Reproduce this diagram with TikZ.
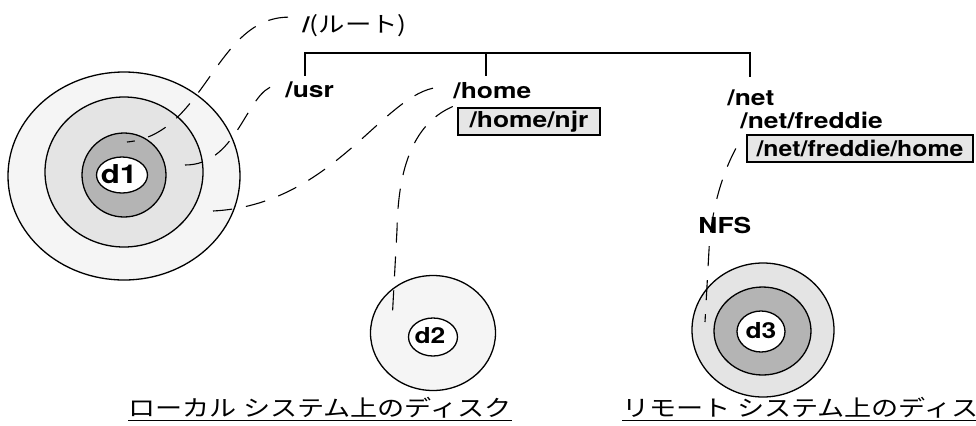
\documentclass[tikz,border=0pt]{standalone}
\usepackage{fontspec}
\setmainfont{TeX Gyre Heros}
\newfontfamily\jpfont{Noto Sans CJK JP}
\usetikzlibrary{positioning}
\definecolor{RingOuter}{HTML}{F5F5F5}
\definecolor{RingMid}{HTML}{E4E4E4}
\definecolor{RingCore}{HTML}{B4B4B4}
\definecolor{BoxFill}{HTML}{E6E6E6}
\newcommand\pathfont{\fontsize{11pt}{13pt}\selectfont\bfseries}
\newcommand\diskfont{\fontsize{11pt}{13pt}\selectfont\bfseries}
\tikzset{
  tree/.style={line width=1pt, line cap=rect},
  link/.style={line width=0.55pt, dash pattern=on 10pt off 7pt},
  ring/.style={draw=black, line width=0.65pt},
  pathlbl/.style={font=\pathfont, xscale=1.2, inner sep=0pt, anchor=base west},
  mountbox/.style={font=\pathfont, xscale=1.2, inner sep=0pt, draw=black, line width=1pt,
    fill=BoxFill, minimum height=13.5pt},
  disklbl/.style={font=\diskfont, xscale=1.2, inner sep=0pt, anchor=base},
  caption/.style={font=\jpfont\fontsize{11.3pt}{13pt}\selectfont, xscale=1.2, inner sep=0pt, anchor=base west},
}
\begin{document}
\begin{tikzpicture}[x=0.5pt, y=-0.5pt]
  \useasboundingbox (0,0) rectangle (976,425);

  % local disk d1
  \filldraw[ring, fill=RingOuter] (124,176) ellipse [x radius=58pt, y radius=52pt];
  \filldraw[ring, fill=RingMid] (124,172) ellipse [x radius=39.5pt, y radius=37.5pt];
  \filldraw[ring, fill=RingCore] (124,175) ellipse [x radius=21pt, y radius=21pt];
  \filldraw[ring, fill=white] (122,175) ellipse [x radius=12.75pt, y radius=9pt];
  \node[disklbl, font=\fontsize{13pt}{15pt}\selectfont\bfseries] (d1) at (119,183) {d1};

  % local disk d2
  \filldraw[ring, fill=RingOuter] (433,333) ellipse [x radius=31.25pt, y radius=28.75pt];
  \filldraw[ring, fill=white] (433,337) ellipse [x radius=12.25pt, y radius=9.5pt];
  \node[disklbl] (d2) at (430,343) {d2};

  % remote disk d3
  \filldraw[ring, fill=RingMid] (763,330) ellipse [x radius=35.5pt, y radius=33.5pt];
  \filldraw[ring, fill=RingCore] (762.5,331) ellipse [x radius=24.25pt, y radius=22pt];
  \filldraw[ring, fill=white] (761,331.5) ellipse [x radius=12pt, y radius=10.25pt];
  \node[disklbl] (d3) at (761,338) {d3};

  % directory tree
  \node[pathlbl] (root) at (302,32) {/\jpfont\mdseries(ルート)};
  \node[pathlbl] (usr) at (285,97) {/usr};
  \node[pathlbl] (home) at (453,98) {/home};
  \node[mountbox, minimum width=59.2pt] (njr) at (529,121.5) {/home/njr};
  \node[pathlbl] (net) at (727,105) {/net};
  \node[pathlbl] (freddie) at (740,128) {/net/freddie};
  \node[mountbox, xscale=0.94, minimum width=100.2pt] (fhome) at (860,148.5) {/net/freddie/home\hspace{3pt}};
  \node[pathlbl] (nfs) at (698,233) {NFS};

  \coordinate (tUsr) at (305,53);
  \coordinate (tHome) at (486,53);
  \coordinate (tNet) at (750,53);
  \coordinate (bUsr) at (305,75);
  \coordinate (bHome) at (486,75);
  \coordinate (bNet) at (750,76);
  \draw[tree] (bUsr) -- (tUsr) -- (tNet) -- (bNet);
  \draw[tree] (tHome) -- (bHome);

  % where each directory lives
  \coordinate (r1) at (127,142);
  \coordinate (u1) at (185,165);
  \coordinate (h1) at (213,211);
  \coordinate (r2) at (392,322);
  \coordinate (r3) at (705,322);
  \draw[link] (root.west) ++(-14,-8) .. controls (215,18) and (205,135) .. (r1);
  \draw[link] (usr.west) ++(-15,-2) .. controls (245,100) and (235,165) .. (u1);
  \draw[link] (home.west) ++(-20,-2) .. controls (380,100) and (330,205) .. (h1);
  \draw[link] (njr.west) ++(-4,-15) .. controls (410,125) and (398,175) .. (397,230) -- (r2);
  \draw[link] (fhome.west) ++(-10,0) .. controls (720,178) and (711,215) .. (709,250) -- (r3);

  % captions
  \node[caption] (local) at (128,416) {\underline{ローカル システム上のディスク}};
  \node[caption] (remote) at (622,416) {\underline{リモート システム上のディス}};
\end{tikzpicture}
\end{document}
